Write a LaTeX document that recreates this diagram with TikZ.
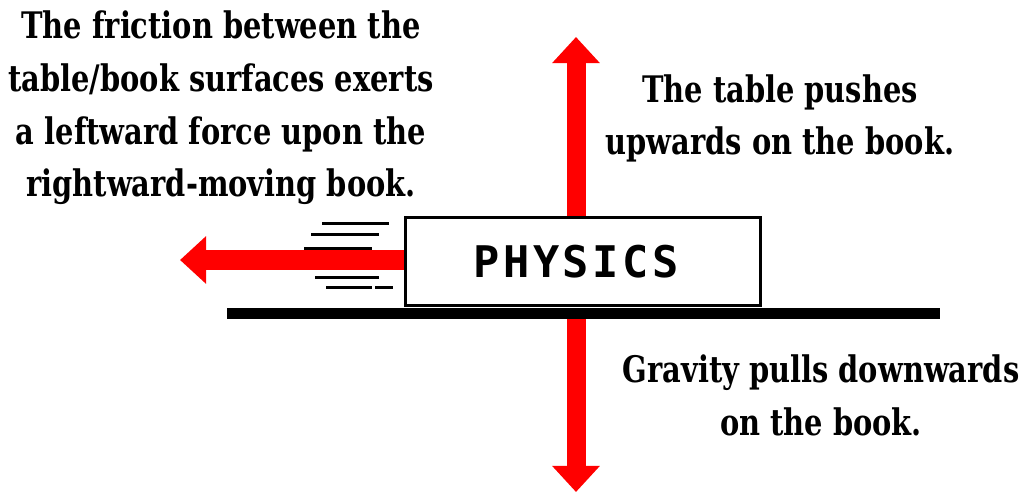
\documentclass[tikz,border=0pt]{standalone}
\usepackage{fontspec}
\newfontfamily\labfont[FakeStretch=0.79]{DejaVu Serif}
\newfontfamily\bookfont[LetterSpace=8]{DejaVu Sans Mono}
\usetikzlibrary{arrows.meta}
\definecolor{forcered}{RGB}{255,0,0}

\begin{document}
\begin{tikzpicture}[x=0.025cm, y=-0.025cm,
  f/.style={draw=forcered, line width=0.475cm,
            -{Triangle[width=1.15cm,length=0.65cm]}},
  t/.style={anchor=base, align=center, inner sep=0pt,
            font=\labfont\bfseries\fontsize{26}{37.5}\selectfont},
  s/.style={line width=0.075cm}]
\useasboundingbox (0,0) rectangle (1028,492);
\coordinate (uptip) at (576,37);
\coordinate (dntip) at (576,492);
\coordinate (lftip) at (180,260);
\coordinate (tl) at (227,313.5);
\coordinate (tr) at (940,313.5);
\node[draw, line width=0.075cm, fill=white, minimum width=8.875cm,
      minimum height=2.2cm] (book) at (583,261.5) {};
\node[font=\bookfont\bfseries\fontsize{31}{31}\selectfont]
      (title) at (576,261.5) {PHYSICS};
\draw[f] (book.north -| uptip) -- (uptip);
\draw[f] (book.west |- lftip) -- (lftip);
\draw[f] (tl -| dntip) -- (dntip);
\draw[line width=0.28cm] (tl) -- (tr);
% motion lines behind the book
\foreach \y/\a/\b in {224/322/389, 235/311/379, 249/304/372,
                      278/315/379, 288/326/372, 288/375/393}
  \draw[s] (\a,\y) -- (\b,\y);
\node[t] (frtxt) at (221,197) {The friction between the\\table/book surfaces exerts\\a leftward force upon the\\rightward-moving book.};
\node[t] (pushtxt) at (780,155) {The table pushes\\upwards on the book.};
\node[t] (gravtxt) at (821,435) {Gravity pulls downwards\\on the book.};
\end{tikzpicture}
\end{document}
